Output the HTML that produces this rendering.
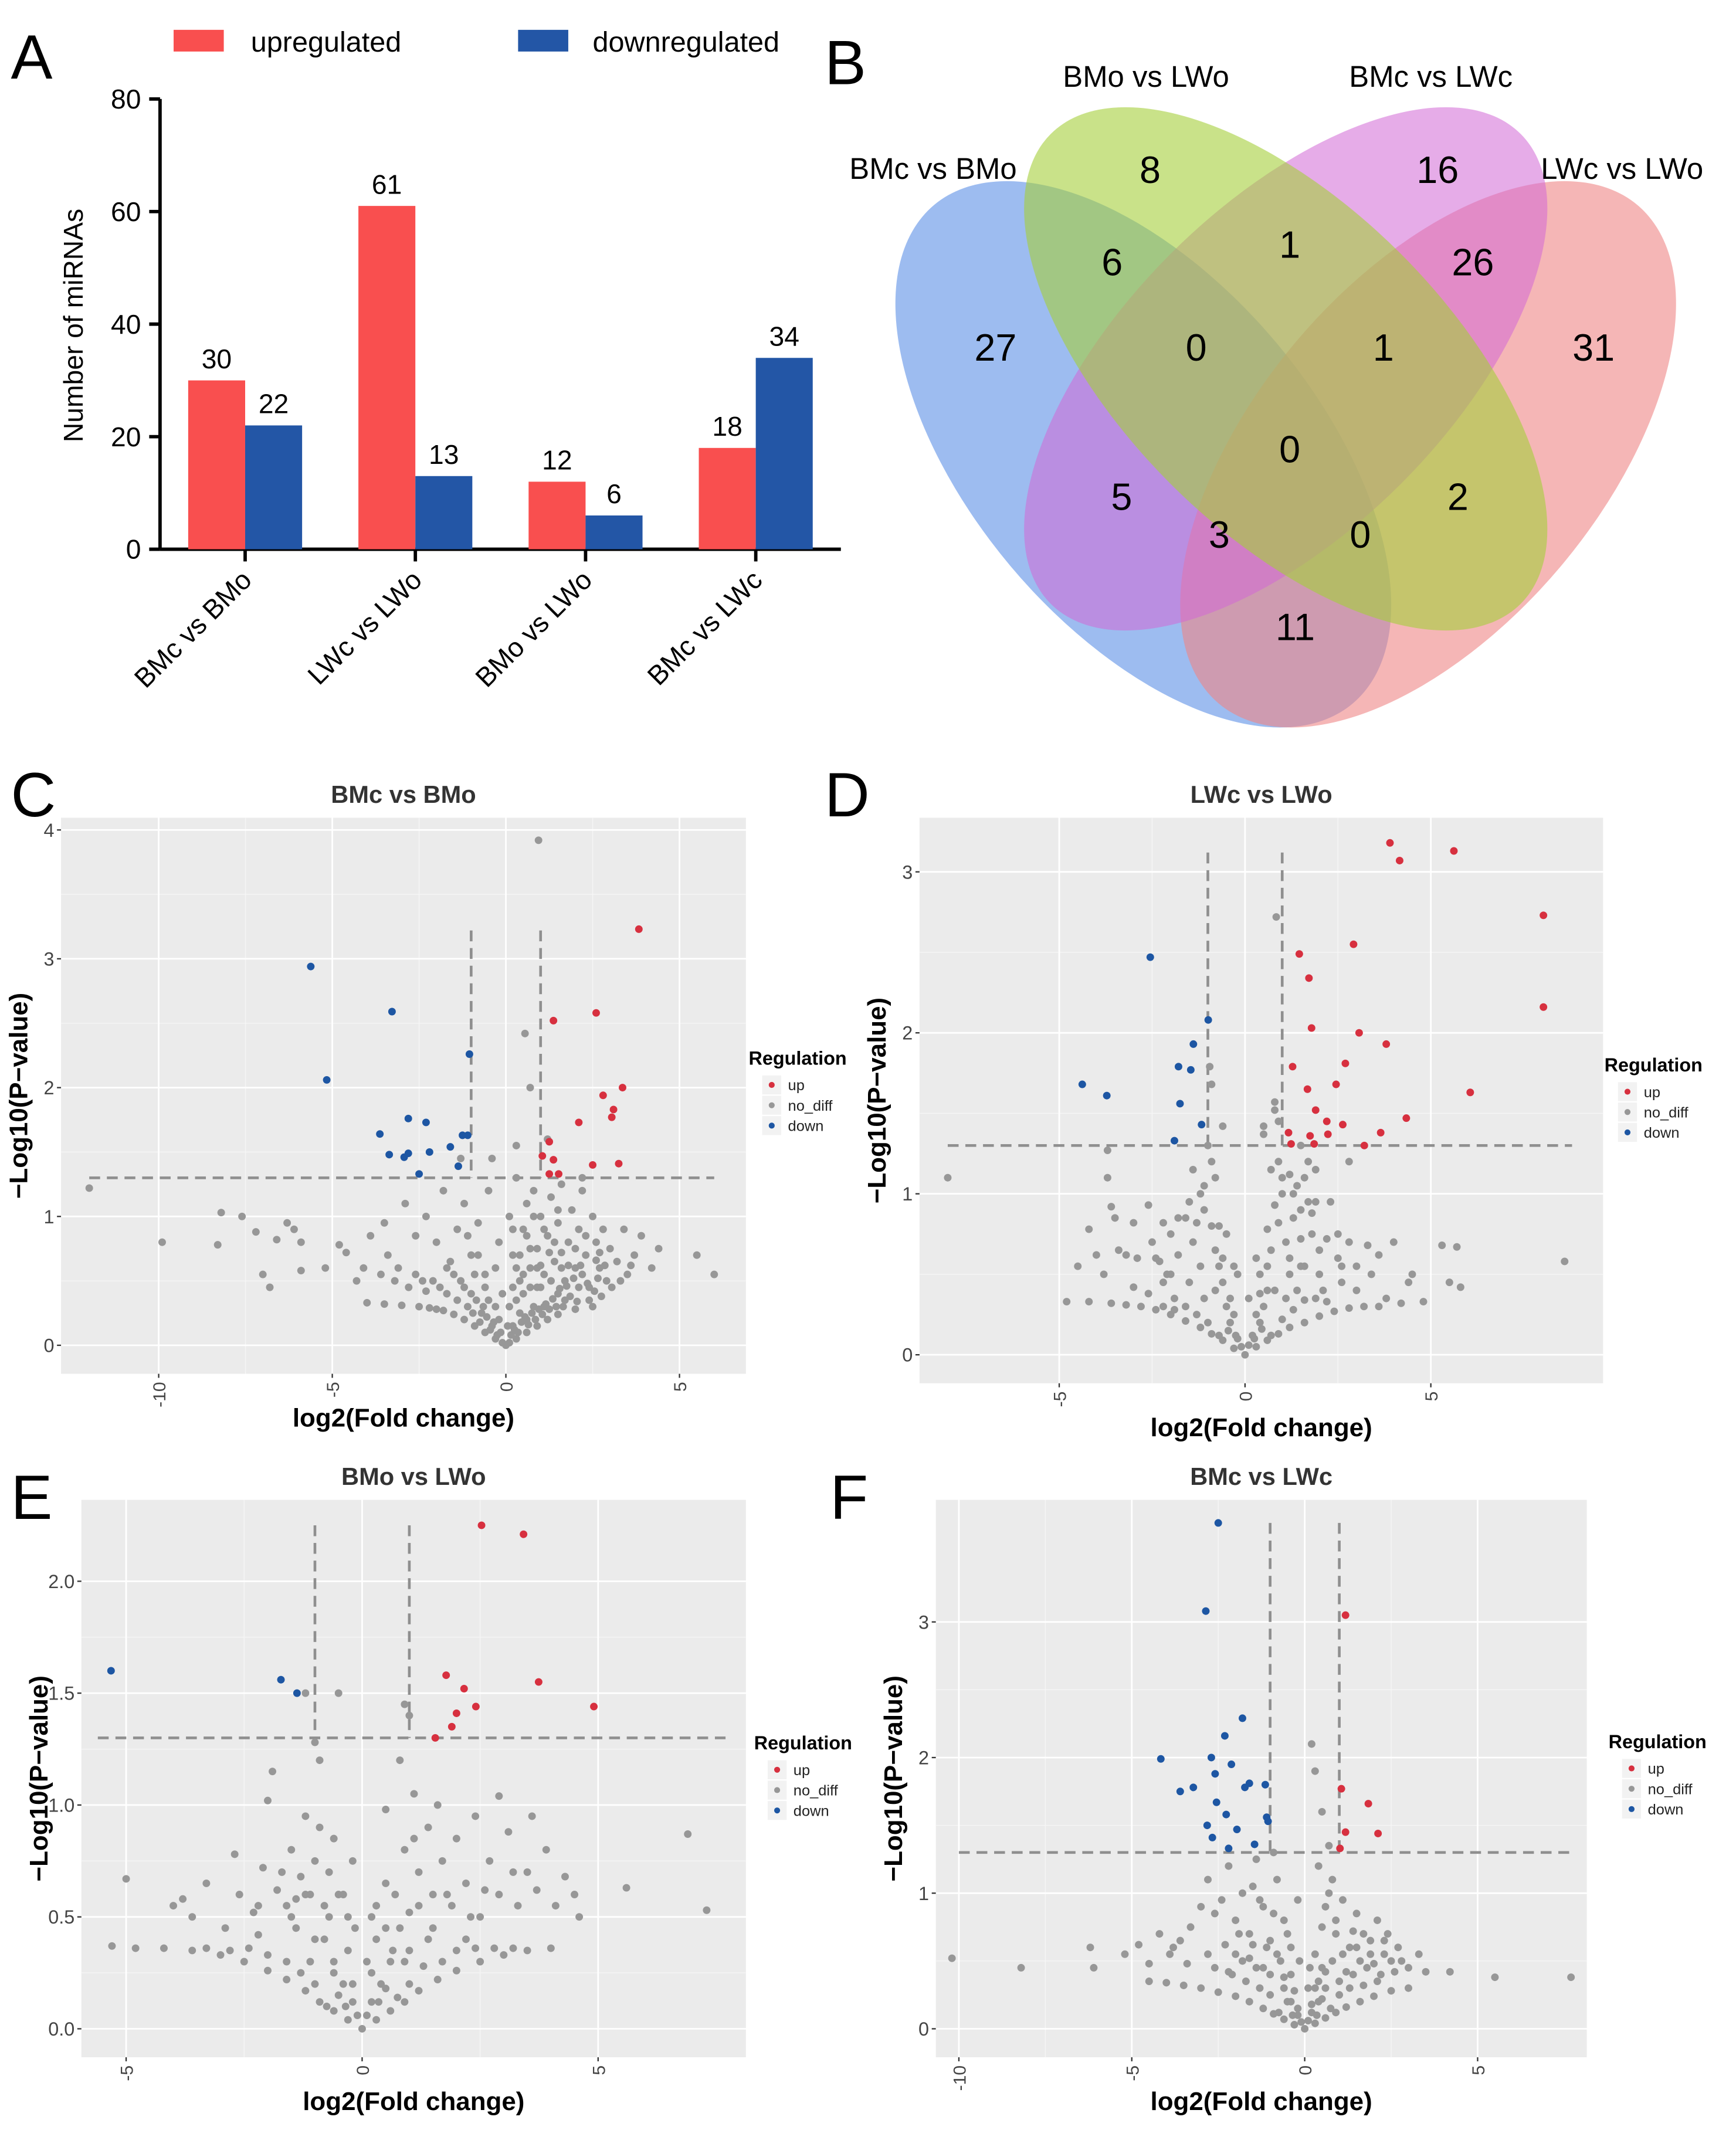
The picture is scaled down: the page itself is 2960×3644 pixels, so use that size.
<!DOCTYPE html>
<html><head><meta charset="utf-8">
<style>
html,body{margin:0;padding:0;background:#fff;}
svg{display:block;font-family:"Liberation Sans",Arial,sans-serif;}
</style></head>
<body>
<svg id="fig" width="2960" height="3644" viewBox="0 0 1280 1575.8" xmlns="http://www.w3.org/2000/svg">
<text x="8" y="58" font-size="46">A</text>
<text x="608" y="62" font-size="46">B</text>
<text x="8" y="602" font-size="46">C</text>
<text x="608" y="602" font-size="46">D</text>
<text x="8" y="1120" font-size="46">E</text>
<text x="612" y="1120" font-size="46">F</text>

<g>
<rect x="128" y="22" width="37" height="16" fill="#f94f4f"/>
<text x="185" y="38" font-size="21">upregulated</text>
<rect x="382" y="22" width="37" height="16" fill="#2356a6"/>
<text x="437" y="38" font-size="21">downregulated</text>
</g>
<g id="barChart"></g>

<g>
<ellipse cx="843" cy="335" rx="128" ry="240" transform="rotate(-40 843 335)" fill="#5b8fe6" fill-opacity="0.6"/>
<ellipse cx="1053" cy="335" rx="128" ry="240" transform="rotate(40 1053 335)" fill="#ee8585" fill-opacity="0.6"/>
<ellipse cx="948" cy="272" rx="120" ry="245" transform="rotate(45 948 272)" fill="#d168d6" fill-opacity="0.55"/>
<ellipse cx="948" cy="272" rx="120" ry="245" transform="rotate(-45 948 272)" fill="#a5cf3a" fill-opacity="0.6"/>
<g font-size="22" text-anchor="middle">
<text x="688" y="132">BMc vs BMo</text>
<text x="845" y="64">BMo vs LWo</text>
<text x="1055" y="64">BMc vs  LWc</text>
<text x="1196" y="132">LWc vs LWo</text>
</g>
<g font-size="28" text-anchor="middle">
<text x="848" y="135">8</text>
<text x="1060" y="135">16</text>
<text x="820" y="203">6</text>
<text x="951" y="190">1</text>
<text x="1086" y="203">26</text>
<text x="734" y="266">27</text>
<text x="882" y="266">0</text>
<text x="1020" y="266">1</text>
<text x="1175" y="266">31</text>
<text x="951" y="341">0</text>
<text x="827" y="376">5</text>
<text x="1075" y="376">2</text>
<text x="899" y="404">3</text>
<text x="1003" y="404">0</text>
<text x="955" y="472">11</text>
</g>
</g>
<g id="volc"></g>
</svg>
<script>
const NS="http://www.w3.org/2000/svg";
function mk(tag,attrs,parent){const e=document.createElementNS(NS,tag);for(const k in attrs)e.setAttribute(k,attrs[k]);parent.appendChild(e);return e;}

const barCategories=["BMc vs BMo","LWc vs LWo","BMo vs LWo","BMc vs LWc"];
const upValues=[30,61,12,18];
const downValues=[22,13,6,34];
const barTicks=[0,20,40,60,80];

const cUp=[[3.83,3.23],[2.6,2.58],[1.37,2.52],[3.36,2.0],[2.8,1.94],[3.1,1.83],[3.05,1.77],[2.1,1.73],[3.25,1.41],[2.5,1.4],[1.25,1.58],[1.05,1.47],[1.37,1.44],[1.25,1.33],[1.52,1.33]];
const cDown=[[-5.62,2.94],[-3.28,2.59],[-5.16,2.06],[-1.05,2.26],[-2.81,1.76],[-2.3,1.73],[-3.63,1.64],[-1.25,1.63],[-1.1,1.63],[-1.6,1.54],[-3.36,1.48],[-2.81,1.49],[-2.93,1.46],[-2.2,1.5],[-2.5,1.33],[-1.37,1.39]];
const cGray=[[-12,1.22],[-9.9,0.8],[-8.2,1.03],[-7.6,1.0],[-8.3,0.78],[-7.2,0.88],[-6.6,0.82],[-6.3,0.95],[-6.1,0.9],[-5.9,0.8],[-7,0.55],[-6.8,0.45],[-5.9,0.58],[-5.2,0.6],[-4.8,0.78],[-4.6,0.72],[-4.3,0.5],[-3.9,0.85],[-3.5,0.95],[-3.4,0.7],[-3.1,0.6],[-2.9,1.1],[-2.6,0.85],[-2.3,1.0],[-2.0,0.8],[-1.8,1.2],[-1.6,0.65],[-1.4,0.9],[-1.2,1.1],[-1.0,0.7],[-0.8,0.95],[-0.6,0.55],[-0.5,1.2],[-0.3,0.6],[-0.2,0.8],[0.1,1.0],[0.2,0.7],[0.3,1.3],[0.4,0.5],[0.5,0.9],[0.6,1.1],[0.7,0.6],[0.8,1.2],[0.9,0.75],[1.0,1.0],[1.1,0.55],[1.2,0.85],[1.3,1.15],[1.4,0.65],[1.5,0.95],[1.6,1.25],[1.7,0.5],[1.8,0.8],[1.9,1.05],[2.0,0.6],[2.1,0.9],[2.2,1.2],[2.3,0.7],[2.4,0.45],[2.5,1.0],[2.6,0.8],[2.7,0.6],[2.8,0.9],[2.9,0.5],[3.0,0.75],[3.2,0.65],[3.4,0.9],[3.5,0.55],[3.7,0.7],[3.9,0.85],[4.2,0.6],[4.4,0.75],[5.5,0.7],[6,0.55],[0.94,3.92],[0.55,2.42],[0.3,1.55],[-0.4,1.45],[1.2,1.6],[0.7,2.0],[2.2,1.3],[-1.3,1.45],
[-4,0.33],[-3.5,0.32],[-3,0.31],[-2.5,0.3],[-2,0.28],[-1.5,0.24],[-1.2,0.2],[-0.9,0.15],[-0.6,0.1],[-0.3,0.05],[0,0],[0.3,0.05],[0.6,0.1],[0.9,0.15],[1.2,0.2],[1.5,0.24],[2,0.28],[2.5,0.3],[-2.2,0.29],[-1.8,0.27],[-0.1,0.02],[0.1,0.02],[0.2,0.15],[0.4,0.25],[-0.2,0.2],[0.5,0.4],[-0.5,0.35],[0.1,0.3],[0.8,0.3],[1,0.45],[1.5,0.4],[-1,0.4],[0.3,0.6],[0.6,0.2],[0.7,0.45],[1.1,0.3],[1.3,0.5],[1.7,0.35],[2.1,0.45],[2.4,0.35],[-0.7,0.25],[-1.3,0.5],[-1.7,0.4],[-2.4,0.5],[-0.4,0.15],[0.2,0.45],[0.9,0.6],[1.6,0.6],[2.2,0.55],[-0.9,0.55]];
const cGrayDense=[[0.15,0.08],[0.25,0.12],[0.35,0.1],[0.45,0.18],[0.55,0.22],[0.65,0.16],[0.75,0.25],[0.85,0.2],[0.95,0.28],[1.05,0.24],[1.15,0.32],[1.25,0.28],[1.35,0.36],[1.45,0.3],[1.55,0.44],[1.65,0.3],[1.75,0.46],[1.85,0.38],[1.95,0.52],[2.05,0.34],[2.15,0.62],[2.35,0.48],[2.55,0.42],[2.65,0.52],[2.75,0.38],[2.85,0.62],[3.05,0.45],[3.3,0.5],[-0.15,0.1],[-0.25,0.08],[-0.35,0.18],[-0.45,0.12],[-0.55,0.22],[-0.65,0.3],[-0.75,0.18],[-0.85,0.35],[-0.95,0.25],[-1.1,0.3],[-1.2,0.45],[-1.4,0.35],[-1.5,0.55],[-1.7,0.6],[-1.9,0.45],[-2.1,0.5],[-2.3,0.42],[-2.6,0.55],[-2.8,0.45],[-3.2,0.5],[-3.6,0.55],[-4.1,0.6],[0.05,0.15],[0.3,0.35],[0.5,0.55],[0.7,0.75],[0.9,0.45],[1.0,0.62],[1.25,0.72],[1.4,0.8],[1.6,0.72],[1.8,0.62],[2.0,0.75],[2.3,0.85],[2.6,0.66],[0.6,0.85],[0.4,0.7],[-0.1,0.4],[-0.3,0.3],[-0.6,0.45],[-0.8,0.7],[-1.1,0.85],[0.2,0.9],[1.1,0.9],[1.5,1.05],[0.8,1.0],[2.7,0.72],[3.6,0.62]];

const dUp=[[3.9,3.18],[4.16,3.07],[5.62,3.13],[8.03,2.73],[8.03,2.16],[1.46,2.49],[1.72,2.34],[2.92,2.55],[1.79,2.03],[3.07,2.0],[3.8,1.93],[2.7,1.81],[1.28,1.79],[2.45,1.68],[1.68,1.65],[6.06,1.63],[4.34,1.47],[1.9,1.52],[2.63,1.43],[3.65,1.38],[1.17,1.38],[2.23,1.37],[1.75,1.36],[1.86,1.31],[3.21,1.3],[1.24,1.31],[2.2,1.45]];
const dDown=[[-2.55,2.47],[-0.99,2.08],[-1.39,1.93],[-1.79,1.79],[-1.46,1.77],[-4.38,1.68],[-3.72,1.61],[-1.75,1.56],[-1.17,1.43],[-1.9,1.33]];
const dGray=[[-8,1.1],[-4.5,0.55],[-4.2,0.78],[-3.8,0.5],[-3.6,0.92],[-3.5,0.85],[-3.4,0.65],[-3.0,0.82],[-2.9,0.6],[-2.6,0.93],[-2.5,0.7],[-2.3,0.58],[-2.1,0.5],[-2.0,0.75],[-1.8,0.62],[-1.6,0.85],[-1.4,1.15],[-1.2,1.0],[-1.1,0.9],[-0.9,1.2],[-0.8,1.1],[-0.7,0.8],[-0.6,0.6],[-0.5,0.75],[-0.3,0.55],[-0.9,1.68],[-0.95,1.79],[-3.7,1.1],[-3.7,1.27],[-0.6,1.42],[0.84,2.72],[0.8,1.57],[0.8,1.52],[0.5,1.42],[0.5,1.37],[0.9,1.2],[0.7,1.15],[1.2,1.12],[1.4,1.05],[1.6,1.1],[1.7,0.95],[1.0,1.0],[0.8,0.93],[1.3,0.85],[1.5,0.9],[1.1,0.7],[0.6,0.78],[1.8,0.75],[2.0,0.65],[2.2,0.72],[2.5,0.6],[2.8,0.7],[3.0,0.55],[3.3,0.68],[3.6,0.62],[4.0,0.7],[4.5,0.5],[5.3,0.68],[5.7,0.67],[8.6,0.58],[5.5,0.45],[5.8,0.42],[1.5,1.3],[2.8,1.2],[1.9,1.15],[0.4,0.5],[0.3,0.6],[-0.2,0.5],[1.2,0.5],[1.6,0.55],
[-4.8,0.33],[-4.2,0.33],[-3.6,0.32],[-3.2,0.31],[-2.8,0.3],[-2.4,0.28],[-2,0.25],[-1.6,0.21],[-1.2,0.17],[-0.9,0.13],[-0.6,0.09],[-0.3,0.04],[0,0],[0.3,0.05],[0.6,0.09],[0.9,0.13],[1.2,0.17],[1.6,0.2],[2,0.24],[2.4,0.27],[2.8,0.29],[3.2,0.3],[3.6,0.3],[4.2,0.32],[4.8,0.33],[-0.4,0.2],[0.4,0.2],[-0.2,0.1],[0.2,0.12],[0.5,0.3],[-0.5,0.3],[0.8,0.4],[-0.8,0.4],[1.1,0.35],[-1.1,0.35],[0.1,0.35],[-1.5,0.45],[1.4,0.4],[-2.2,0.45],[2.1,0.4],[0.6,0.55],[-0.7,0.55],[1.9,0.35],[-1.9,0.35]];
const dGrayDense=[[-0.1,0.05],[0.1,0.06],[-0.25,0.12],[0.25,0.1],[-0.45,0.15],[0.45,0.16],[-0.7,0.12],[0.7,0.12],[-1.0,0.2],[1.0,0.22],[-1.3,0.25],[1.3,0.28],[-1.6,0.3],[1.6,0.34],[-1.9,0.28],[-2.2,0.3],[2.2,0.33],[-2.6,0.38],[2.6,0.45],[-3.0,0.42],[3.0,0.4],[-1.2,0.55],[1.2,0.6],[-1.4,0.7],[1.5,0.72],[-1.8,0.85],[1.8,0.88],[-2.2,0.82],[2.3,0.95],[-0.9,0.8],[0.9,0.82],[-1.1,1.05],[1.0,1.1],[-1.5,0.95],[1.5,0.55],[-2.4,0.6],[2.5,0.75],[-3.2,0.62],[3.4,0.5],[-0.4,0.35],[0.4,0.38],[-0.6,0.45],[0.6,0.4],[0.3,0.25],[-0.3,0.25],[1.3,1.0],[-1.3,0.82],[0.7,0.65],[-0.8,0.65],[2.0,0.5],[-2.0,0.5],[4.4,0.45],[-4.0,0.62],[2.6,0.55],[3.8,0.35],[1.7,1.2],[-1.0,1.3],[0.9,1.45],[1.9,0.95]];

const eUp=[[2.53,2.25],[3.42,2.21],[3.74,1.55],[4.91,1.44],[1.78,1.58],[2.16,1.52],[2.41,1.44],[2.0,1.41],[1.9,1.35],[1.55,1.3]];
const eDown=[[-5.32,1.6],[-1.72,1.56],[-1.38,1.5]];
const eGray=[[-5,0.67],[-5.3,0.37],[-4.0,0.55],[-3.6,0.5],[-3.3,0.65],[-2.7,0.78],[-2.6,0.6],[-2.3,0.52],[-2.1,0.72],[-2.0,1.02],[-1.9,1.15],[-1.8,0.62],[-1.6,0.55],[-1.5,0.8],[-1.3,0.68],[-1.2,0.95],[-1.1,0.6],[-1.0,0.75],[-0.9,1.2],[-0.8,0.55],[-0.7,0.7],[-0.6,0.85],[-0.5,1.5],[-0.4,0.6],[-0.3,0.5],[-0.2,0.75],[-1.0,1.28],[-1.2,1.5],[0.5,0.98],[0.7,0.6],[0.9,0.8],[1.0,0.52],[1.2,0.7],[1.4,0.9],[1.5,0.6],[1.7,0.75],[1.9,0.55],[2.0,0.85],[2.2,0.65],[2.4,0.95],[2.5,0.5],[2.7,0.75],[2.9,0.6],[3.1,0.88],[3.3,0.55],[3.5,0.7],[3.7,0.62],[3.9,0.8],[4.1,0.55],[4.3,0.68],[4.5,0.6],[5.6,0.63],[6.9,0.87],[7.3,0.53],[0.8,1.2],[1.1,1.05],[1.6,1.0],[0.9,1.45],[1.0,1.4],[2.9,1.04],[3.6,0.95],
[-4.8,0.36],[-4.2,0.36],[-3.6,0.35],[-3.0,0.33],[-2.5,0.3],[-2,0.26],[-1.6,0.22],[-1.2,0.17],[-0.9,0.12],[-0.6,0.08],[-0.3,0.04],[0,0],[0.3,0.04],[0.6,0.08],[0.9,0.12],[1.2,0.17],[1.6,0.22],[2,0.26],[2.5,0.3],[3.0,0.33],[3.5,0.35],[4.0,0.36],[-0.4,0.2],[0.4,0.2],[-0.2,0.12],[0.2,0.12],[0.6,0.3],[-0.6,0.3],[1.0,0.35],[-1.0,0.4],[0.1,0.3],[-1.4,0.45],[1.4,0.4],[-2.2,0.42],[2.2,0.4],[0.5,0.45],[-0.7,0.5],[0.3,0.55]];
const eGrayDense=[[-0.1,0.06],[0.1,0.06],[-0.2,0.2],[0.2,0.25],[-0.35,0.1],[0.35,0.12],[-0.5,0.15],[0.5,0.18],[-0.75,0.1],[0.75,0.14],[-1.0,0.2],[1.0,0.2],[-1.3,0.25],[1.3,0.28],[-1.6,0.3],[1.7,0.3],[-2.0,0.33],[2.0,0.35],[-2.4,0.36],[2.4,0.36],[-2.8,0.35],[2.8,0.36],[3.2,0.36],[-3.3,0.36],[-0.5,0.6],[0.5,0.65],[-0.8,0.4],[0.8,0.45],[-1.2,0.6],[1.2,0.55],[-1.5,0.5],[1.5,0.45],[-1.7,0.7],[1.8,0.6],[-2.2,0.55],[2.3,0.5],[-0.3,0.35],[0.3,0.4],[-0.9,0.9],[1.1,0.85],[-0.6,0.25],[0.65,0.35],[-1.1,0.3],[0.9,0.3],[-1.4,0.58],[2.6,0.62],[3.2,0.7],[-2.9,0.45],[-3.8,0.58],[4.6,0.5],[0.2,0.5],[-0.15,0.45]];

const fUp=[[1.18,3.05],[1.06,1.77],[1.84,1.66],[2.12,1.44],[1.18,1.45],[1.02,1.33]];
const fDown=[[-2.5,3.73],[-2.86,3.08],[-1.8,2.29],[-2.31,2.16],[-4.16,1.99],[-2.7,2.0],[-2.12,1.95],[-2.59,1.88],[-3.22,1.78],[-1.6,1.81],[-1.73,1.78],[-1.14,1.8],[-3.6,1.75],[-2.55,1.67],[-1.1,1.56],[-2.27,1.58],[-2.82,1.5],[-1.96,1.47],[-2.67,1.41],[-1.45,1.36],[-2.2,1.33],[-1.06,1.53]];
const fGray=[[-10.2,0.52],[-8.2,0.45],[-6.2,0.6],[-6.1,0.45],[-5.2,0.55],[-4.8,0.62],[-4.5,0.48],[-4.2,0.7],[-3.9,0.55],[-3.6,0.65],[-3.3,0.75],[-3.0,0.9],[-2.8,1.1],[-2.6,0.85],[-2.4,0.95],[-2.2,1.2],[-2.0,0.8],[-1.8,1.0],[-1.6,0.7],[-1.4,1.25],[-1.2,0.9],[-1.0,0.65],[-0.8,1.1],[-0.6,0.8],[-0.4,0.6],[-0.2,0.95],[0.2,2.1],[0.3,1.9],[0.5,1.6],[0.4,1.2],[0.6,0.9],[0.8,1.1],[0.9,0.7],[1.1,0.95],[1.3,0.6],[1.5,0.85],[1.7,0.7],[1.9,0.55],[2.1,0.8],[2.3,0.65],[2.5,0.5],[2.7,0.6],[3.0,0.45],[3.3,0.55],[4.2,0.42],[5.5,0.38],[7.7,0.38],[-0.9,1.3],[0.7,1.35],[-1.5,1.05],
[-4.5,0.35],[-4,0.34],[-3.5,0.32],[-3,0.3],[-2.5,0.27],[-2,0.24],[-1.6,0.2],[-1.2,0.15],[-0.9,0.11],[-0.6,0.07],[-0.3,0.03],[0,0],[0.3,0.04],[0.6,0.08],[0.9,0.12],[1.2,0.16],[1.6,0.2],[2,0.24],[2.5,0.28],[3,0.3],[-0.4,0.2],[0.4,0.2],[-0.2,0.1],[0.2,0.12],[0.6,0.3],[-0.6,0.3],[1.0,0.35],[-1.0,0.4],[0.1,0.3],[-1.4,0.45],[1.4,0.4],[-2.2,0.42],[2.2,0.4],[0.5,0.45],[-0.7,0.5],[0.3,0.55],[1.8,0.45],[-1.8,0.5]];
const fGrayDense=[[-0.1,0.05],[0.1,0.06],[-0.2,0.15],[0.2,0.18],[-0.35,0.1],[0.35,0.1],[-0.5,0.2],[0.5,0.22],[-0.75,0.12],[0.75,0.15],[-1.0,0.25],[1.0,0.25],[-1.3,0.3],[1.3,0.3],[-1.7,0.35],[1.7,0.32],[-2.1,0.4],[2.1,0.35],[-2.6,0.45],[2.6,0.42],[-0.4,0.4],[0.4,0.35],[-0.8,0.55],[0.8,0.5],[-1.1,0.6],[1.1,0.55],[-1.5,0.62],[1.5,0.6],[-1.9,0.7],[1.9,0.65],[-2.3,0.62],[2.3,0.55],[-0.3,0.28],[0.3,0.3],[-0.6,0.38],[0.6,0.42],[-1.2,0.45],[1.2,0.42],[-1.6,0.52],[1.6,0.5],[-2.0,0.55],[2.0,0.48],[-2.8,0.55],[2.8,0.5],[0.15,0.45],[-0.15,0.5],[0.9,0.8],[-0.9,0.85],[0.5,0.75],[-0.5,0.7],[1.4,0.72],[-3.4,0.48],[-3.8,0.6],[3.5,0.42],[2.4,0.7],[0.7,1.0],[-1.3,0.95]];

(function(){
  const g=document.getElementById('barChart');
  const x0=118,x1=620,yBase=405,yTop=73,ymax=80;
  const Y=v=>yBase-(v/ymax)*(yBase-yTop);
  const groupW=(x1-x0)/barCategories.length;
  const bw=42;
  const ax=mk('line',{x1:x0,y1:yTop,x2:x0,y2:yBase,stroke:'#000','stroke-width':2.5},g);
  
  
  const bx=mk('line',{x1:x0,y1:yBase,x2:x1,y2:yBase,stroke:'#000','stroke-width':2.5},g);
  
  
  barTicks.forEach(t=>{
    mk('line',{x1:x0-8,y1:Y(t),x2:x0,y2:Y(t),stroke:'#000','stroke-width':2.5},g);
    const tx=mk('text',{x:x0-14,y:Y(t)+7,'font-size':20,'text-anchor':'end'},g);
    tx.textContent=t;
    
    
  });
  const yt=mk('text',{transform:'translate(61,240) rotate(-90)','font-size':20,'text-anchor':'middle'},g);
  yt.textContent='Number of miRNAs';
  
  
  barCategories.forEach((c,i)=>{
    const cx=x0+groupW*(i+0.5);
    const r=mk('rect',{x:cx-bw,y:Y(upValues[i]),width:bw,height:yBase-Y(upValues[i]),fill:'#f94f4f'},g);
    
    
    const b=mk('rect',{x:cx,y:Y(downValues[i]),width:bw,height:yBase-Y(downValues[i]),fill:'#2356a6'},g);
    
    
    const lu=mk('text',{x:cx-bw/2,y:Y(upValues[i])-9,'font-size':20,'text-anchor':'middle'},g);
    lu.textContent=upValues[i];
    
    
    const ld=mk('text',{x:cx+bw/2,y:Y(downValues[i])-9,'font-size':20,'text-anchor':'middle'},g);
    ld.textContent=downValues[i];
    
    
    mk('line',{x1:cx,y1:yBase,x2:cx,y2:yBase+9,stroke:'#000','stroke-width':2.5},g);
    const cl=mk('text',{transform:`translate(${cx+6},${yBase+24}) rotate(-45)`,'font-size':20,'text-anchor':'end'},g);
    cl.textContent=c;
    
    
  });
})();

const panels=[
 {name:'c',title:'BMc vs BMo',px0:45,px1:550,py0:603,py1:1013,x0px:373,xs:25.6,y0px:992,ys:95,xt:[-10,-5,0,5],yt:[0,1,2,3,4],yfmt:0,hx0:-12,hx1:6,vtop:3.22,up:cUp,down:cDown,gray:cGray.concat(cGrayDense),leg:[552,780]},
 {name:'d',title:'LWc vs LWo',px0:678,px1:1182,py0:603,py1:1020,x0px:918,xs:27.4,y0px:999,ys:118.7,xt:[-5,0,5],yt:[0,1,2,3],yfmt:0,hx0:-8,hx1:8.8,vtop:3.12,up:dUp,down:dDown,gray:dGray.concat(dGrayDense),leg:[1183,785]},
 {name:'e',title:'BMo vs LWo',px0:60,px1:550,py0:1106,py1:1517,x0px:267,xs:34.8,y0px:1496,ys:165,xt:[-5,0,5],yt:[0,0.5,1,1.5,2],yfmt:1,hx0:-5.6,hx1:7.7,vtop:2.25,up:eUp,down:eDown,gray:eGray.concat(eGrayDense),leg:[556,1285]},
 {name:'f',title:'BMc vs LWc',px0:690,px1:1170,py0:1106,py1:1517,x0px:962,xs:25.5,y0px:1496,ys:100,xt:[-10,-5,0,5],yt:[0,1,2,3],yfmt:0,hx0:-10,hx1:7.7,vtop:3.73,up:fUp,down:fDown,gray:fGray.concat(fGrayDense),leg:[1186,1284]}
];
const root=document.getElementById('volc');
panels.forEach(p=>{
  const g=mk('g',{},root);
  
  
  const X=v=>p.x0px+v*p.xs, Y=v=>p.y0px-v*p.ys;
  const bg=mk('rect',{x:p.px0,y:p.py0,width:p.px1-p.px0,height:p.py1-p.py0,fill:'#ebebeb'},g);
  
  
  for(let i=0;i<p.xt.length-1;i++){const m=(p.xt[i]+p.xt[i+1])/2;mk('line',{x1:X(m),x2:X(m),y1:p.py0,y2:p.py1,stroke:'#f6f6f6','stroke-width':0.6},g);}
  for(let i=0;i<p.yt.length-1;i++){const m=(p.yt[i]+p.yt[i+1])/2;mk('line',{x1:p.px0,x2:p.px1,y1:Y(m),y2:Y(m),stroke:'#f6f6f6','stroke-width':0.6},g);}
  p.xt.forEach(t=>{
    mk('line',{x1:X(t),x2:X(t),y1:p.py0,y2:p.py1,stroke:'#fff','stroke-width':1.2},g);
    mk('line',{x1:X(t),x2:X(t),y1:p.py1,y2:p.py1+3,stroke:'#333','stroke-width':1},g);
    const tl=mk('text',{transform:`translate(${X(t)+5},${p.py1+6}) rotate(-90)`,'font-size':13,'text-anchor':'end',fill:'#444'},g);
    tl.textContent=(t<0?'-':'')+Math.abs(t);
    
    
  });
  p.yt.forEach(t=>{
    mk('line',{x1:p.px0,x2:p.px1,y1:Y(t),y2:Y(t),stroke:'#fff','stroke-width':1.2},g);
    mk('line',{x1:p.px0-3,x2:p.px0,y1:Y(t),y2:Y(t),stroke:'#333','stroke-width':1},g);
    const tl=mk('text',{x:p.px0-5,y:Y(t)+5,'font-size':14,'text-anchor':'end',fill:'#444'},g);
    tl.textContent=t.toFixed(p.yfmt);
    
    
  });
  const dash={stroke:'#8f8f8f','stroke-width':2,'stroke-dasharray':'8,5',fill:'none'};
  const h=mk('line',Object.assign({x1:X(p.hx0),x2:X(p.hx1),y1:Y(1.3),y2:Y(1.3)},dash),g);
  
  
  [-1,1].forEach(v=>{
    const l=mk('line',Object.assign({x1:X(v),x2:X(v),y1:Y(p.vtop),y2:Y(1.3)},dash),g);
    
    
  });
  const draw=(arr,col,nm)=>arr.forEach(d=>{
    const c=mk('circle',{cx:X(d[0]),cy:Y(d[1]),r:2.8,fill:col},g);
    
    
  });
  draw(p.gray,'#979797','point-no-diff');
  draw(p.up,'#d7303f','point-up');
  draw(p.down,'#1d56a3','point-down');
  const tt=mk('text',{x:(p.px0+p.px1)/2,y:p.py0-11,'font-size':18,'font-weight':'bold','text-anchor':'middle',fill:'#333'},g);
  tt.textContent=p.title;
  
  
  const xt=mk('text',{x:(p.px0+p.px1)/2,y:p.py1+39,'font-size':19,'font-weight':'bold','text-anchor':'middle'},g);
  xt.textContent='log2(Fold change)';
  
  
  const yti=mk('text',{transform:`translate(${p.px0-25},${(p.py0+p.py1)/2}) rotate(-90)`,'font-size':19,'font-weight':'bold','text-anchor':'middle'},g);
  yti.textContent='\u2212Log10(P\u2212value)';
  
  
  const lg=mk('g',{},g);
  
  
  const lt=mk('text',{x:p.leg[0],y:p.leg[1]+5,'font-size':14,'font-weight':'bold'},lg);
  lt.textContent='Regulation';
  [['up','#d7303f'],['no_diff','#979797'],['down','#1d56a3']].forEach((e,i)=>{
    const yy=p.leg[1]+20+i*15;
    mk('rect',{x:p.leg[0]+10,y:yy-7,width:14,height:14,fill:'#f2f2f2'},lg);
    const c=mk('circle',{cx:p.leg[0]+17,cy:yy,r:2.2,fill:e[1]},lg);
    
    
    const t=mk('text',{x:p.leg[0]+29,y:yy+4,'font-size':11,fill:'#222'},lg);
    t.textContent=e[0];
    
    
  });
});
</script>
</body></html>
